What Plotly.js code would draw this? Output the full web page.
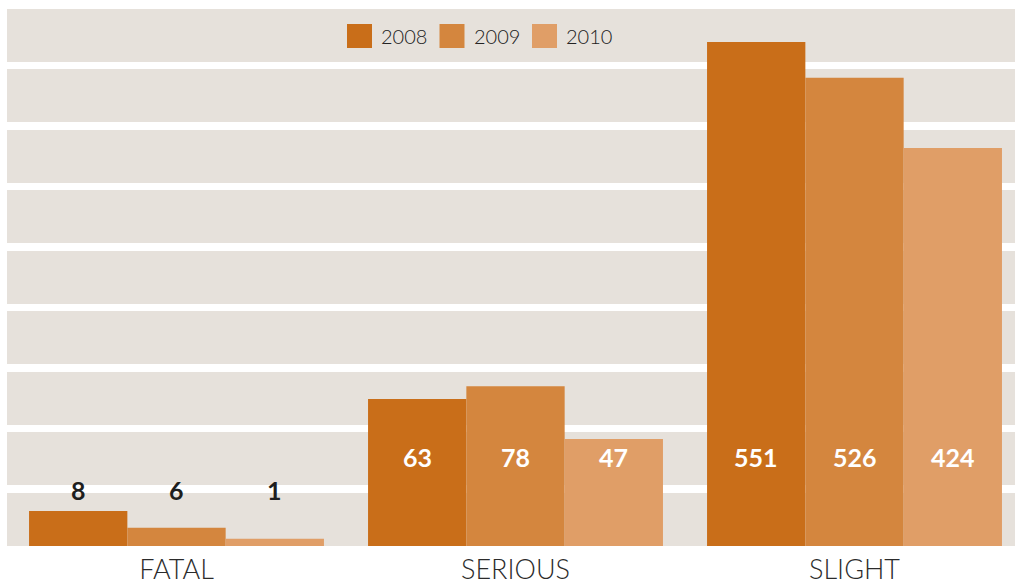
<!DOCTYPE html>
<html>
<head>
<meta charset="utf-8">
<script src="https://cdn.plot.ly/plotly-3.0.1.min.js"></script>
<style>
  html, body { margin: 0; padding: 0; background: #ffffff; }
  #chart { width: 1015px; height: 587px; }
</style>
</head>
<body>
<div id="chart"></div>
<script>
// ---- data ----
const categories = ['FATAL', 'SERIOUS', 'SLIGHT'];
const seriesNames = ['2008', '2009', '2010'];
// labelled values printed on the bars
const values2008 = [8, 63, 551];
const values2009 = [6, 78, 526];
const values2010 = [1, 47, 424];
// drawn bar heights, in grid-band units (the reference is not drawn to scale)
const heights2008 = [0.58, 2.43, 8.33];
const heights2009 = [0.30, 2.64, 7.74];
const heights2010 = [0.12, 1.77, 6.58];

const colors = ['#C96E19', '#D4863E', '#E09E67'];
const valueSets = [values2008, values2009, values2010];
const heightSets = [heights2008, heights2009, heights2010];

const W = 1015, H = 587;
const M = {l: 7, r: 0, t: 9, b: 41};
const plotW = W - M.l - M.r, plotH = H - M.t - M.b;
const band = 60.5;                 // px per grid unit
const yTop = plotH / band;
const catPx = 339;                 // px per category
const xMax = -0.5 + plotW / catPx;
const bargap = 0.13;
const barUnit = (1 - bargap) / seriesNames.length;

const traces = seriesNames.map((name, j) => ({
  type: 'bar',
  name: name,
  x: categories,
  y: heightSets[j],
  marker: {color: colors[j], line: {width: 0}},
  hoverinfo: 'skip',
  showlegend: false
}));

const labelFont = {family: 'Lato, "Open Sans", sans-serif', size: 25, weight: 700};
const insideY = 1.47, outsideY = 0.93;
const annotations = [];
seriesNames.forEach((name, j) => {
  categories.forEach((cat, i) => {
    const h = heightSets[j][i];
    const inside = h > 1.2;
    annotations.push({
      x: i + (j - 1) * barUnit, xref: 'x',
      y: inside ? insideY : outsideY, yref: 'y',
      text: String(valueSets[j][i]),
      showarrow: false,
      xanchor: 'center', yanchor: 'middle',
      font: Object.assign({}, labelFont, {color: inside ? '#ffffff' : '#1e1e1e'})
    });
  });
});

// custom legend (large square swatches)
const shapes = [];
const legStart = 347, legStep = 92.5, legCenterY = 36;
const legY = (H - M.b - legCenterY) / plotH;
seriesNames.forEach((name, j) => {
  const px = legStart + j * legStep;
  shapes.push({
    type: 'rect', xref: 'paper', yref: 'paper',
    xsizemode: 'pixel', ysizemode: 'pixel',
    xanchor: (px - M.l) / plotW, yanchor: legY,
    x0: 0, x1: 25, y0: -12, y1: 12,
    fillcolor: colors[j], line: {width: 0}, layer: 'above'
  });
  annotations.push({
    xref: 'paper', yref: 'paper',
    x: (px + 32 - M.l) / plotW, y: legY,
    xanchor: 'left', yanchor: 'middle',
    text: name, showarrow: false,
    font: {family: 'Lato, sans-serif', size: 20, weight: 300, color: '#222222'}
  });
});

const layout = {
  width: W, height: H,
  margin: M,
  paper_bgcolor: '#ffffff',
  plot_bgcolor: '#E6E1DB',
  barmode: 'group',
  bargap: bargap,
  bargroupgap: 0,
  showlegend: false,
  xaxis: {
    type: 'category',
    range: [-0.5, xMax],
    showgrid: false, zeroline: false, showline: false,
    ticks: '',
    automargin: false,
    ticklabelstandoff: 5,
    tickfont: {family: 'Lato, sans-serif', size: 27, weight: 300, color: '#2b2b2b'},
    fixedrange: true
  },
  yaxis: {
    range: [0, yTop],
    tick0: (H - M.b - 489) / band,
    dtick: 1,
    showgrid: true, gridcolor: '#ffffff', gridwidth: 7.5,
    zeroline: false, showline: false,
    showticklabels: false, ticks: '',
    automargin: false,
    fixedrange: true
  },
  annotations: annotations,
  shapes: shapes
};

Plotly.newPlot('chart', traces, layout, {displayModeBar: false, staticPlot: true});
</script>
</body>
</html>
